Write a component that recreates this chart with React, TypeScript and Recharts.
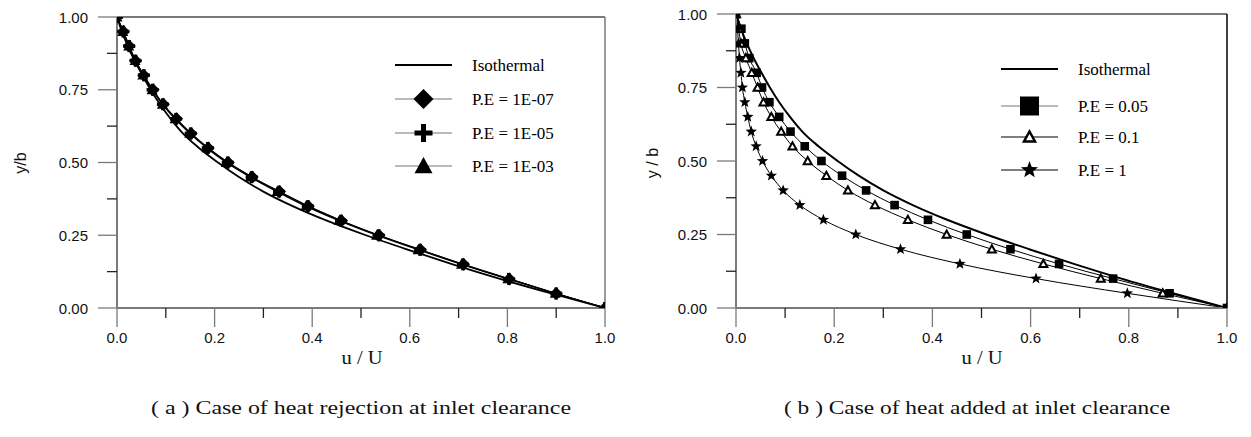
import React from 'react'
import { LineChart, Line, XAxis, YAxis, ReferenceLine } from 'recharts'

// y/b levels at which every profile was sampled (top to bottom)
const yLevels = [1.0, 0.95, 0.9, 0.85, 0.8, 0.75, 0.7, 0.65, 0.6, 0.55, 0.5, 0.45, 0.4, 0.35, 0.3, 0.25, 0.2, 0.15, 0.1, 0.05, 0.0]

// u/U for each y/b level
const uIsothermal = [0, 0.01, 0.022, 0.036, 0.052, 0.069, 0.088, 0.11, 0.135, 0.168, 0.207, 0.25, 0.3, 0.36, 0.43, 0.51, 0.597, 0.688, 0.785, 0.89, 1.0]
const uPe1e7 = [0, 0.013, 0.025, 0.038, 0.055, 0.074, 0.095, 0.122, 0.152, 0.187, 0.228, 0.277, 0.333, 0.392, 0.46, 0.537, 0.622, 0.71, 0.804, 0.9, 1.0]
const uPe1e5 = [0, 0.013, 0.025, 0.038, 0.055, 0.073, 0.094, 0.121, 0.151, 0.186, 0.227, 0.276, 0.332, 0.391, 0.459, 0.536, 0.621, 0.709, 0.803, 0.9, 1.0]
const uPe1e3 = [0, 0.012, 0.024, 0.037, 0.053, 0.072, 0.093, 0.119, 0.149, 0.184, 0.224, 0.273, 0.328, 0.387, 0.455, 0.532, 0.617, 0.706, 0.801, 0.898, 1.0]
const uPe005 = [0, 0.011, 0.018, 0.027, 0.042, 0.053, 0.068, 0.088, 0.111, 0.14, 0.174, 0.216, 0.265, 0.323, 0.391, 0.47, 0.559, 0.658, 0.768, 0.883, 1.0]
const uPe01 = [0, 0.005, 0.01, 0.02, 0.032, 0.044, 0.056, 0.072, 0.092, 0.115, 0.146, 0.184, 0.228, 0.283, 0.35, 0.429, 0.521, 0.626, 0.743, 0.869, 1.0]
const uPe1 = [0, 0.003, 0.005, 0.007, 0.01, 0.013, 0.018, 0.024, 0.031, 0.041, 0.054, 0.072, 0.096, 0.13, 0.178, 0.244, 0.335, 0.456, 0.611, 0.797, 1.0]

const xTicks = [0, 0.1, 0.2, 0.3, 0.4, 0.5, 0.6, 0.7, 0.8, 0.9, 1.0]
const yTicks = [0, 0.125, 0.25, 0.375, 0.5, 0.625, 0.75, 0.875, 1.0]

const legendA = ['Isothermal', 'P.E = 1E-07', 'P.E = 1E-05', 'P.E = 1E-03']
const legendB = ['Isothermal', 'P.E = 0.05', 'P.E = 0.1', 'P.E = 1']
const captionA = '( a ) Case of heat rejection at inlet clearance'
const captionB = '( b ) Case of heat added at inlet clearance'

const toPoints = (us: number[]) => us.map((u, i) => ({ u, y: yLevels[i] }))

const SANS = '"Liberation Sans", Arial, sans-serif'
const SERIF = '"Liberation Serif", "Times New Roman", serif'
const AXIS = '#7a7a7a'

// ---- markers ----
function Diamond({ cx, cy, s = 5.5 }: any) {
  return <polygon points={`${cx},${cy - s} ${cx + s},${cy} ${cx},${cy + s} ${cx - s},${cy}`} fill="#000" />
}
function Plus({ cx, cy, s = 5, t = 3.2 }: any) {
  return (
    <g fill="#000">
      <rect x={cx - s} y={cy - t / 2} width={2 * s} height={t} />
      <rect x={cx - t / 2} y={cy - s} width={t} height={2 * s} />
    </g>
  )
}
function Tri({ cx, cy, s = 5, hollow = false, sw = 2 }: any) {
  const pts = `${cx},${cy - s} ${cx + s},${cy + s * 0.8} ${cx - s},${cy + s * 0.8}`
  return hollow
    ? <polygon points={pts} fill="#fff" stroke="#000" strokeWidth={sw} strokeLinejoin="miter" />
    : <polygon points={pts} fill="#000" />
}
function Square({ cx, cy, s = 4 }: any) {
  return <rect x={cx - s} y={cy - s} width={2 * s} height={2 * s} fill="#000" />
}
function Star({ cx, cy, r = 5.5 }: any) {
  const pts: string[] = []
  for (let i = 0; i < 10; i++) {
    const rad = i % 2 === 0 ? r : r * 0.42
    const a = -Math.PI / 2 + (i * Math.PI) / 5
    pts.push(`${cx + rad * Math.cos(a)},${cy + rad * Math.sin(a)}`)
  }
  return <polygon points={pts.join(' ')} fill="#000" />
}

const dot = (Shape: any, extra: any = {}) => (p: any) => (
  <Shape key={`d-${p.index}`} cx={p.cx} cy={p.cy} {...extra} />
)

// ---- ticks ----
function XTick({ x, y, payload }: any) {
  const major = Math.round(payload.value * 10) % 2 === 0
  return (
    <g>
      <line x1={x} x2={x} y1={y} y2={y + (major ? 19 : 10)} stroke={major ? AXIS : '#222'} strokeWidth={1.3} />
      {major && (
        <text x={x} y={y + 29} textAnchor="middle" dominantBaseline="central" fontFamily={SANS} fontSize={15} fill="#111">
          {payload.value.toFixed(1)}
        </text>
      )}
    </g>
  )
}
function YTick({ x, y, payload }: any) {
  const major = Math.round(payload.value * 8) % 2 === 0
  return (
    <g>
      <line x1={x - (major ? 19 : 10)} x2={x} y1={y} y2={y} stroke={major ? AXIS : '#222'} strokeWidth={1.3} />
      {major && (
        <text x={x - 29} y={y} textAnchor="end" dominantBaseline="central" fontFamily={SANS} fontSize={15} fill="#111">
          {payload.value.toFixed(2)}
        </text>
      )}
    </g>
  )
}

// ---- legend (drawn as an overlay so it does not shrink the plot) ----
function LegendBox({ labels, symbols, rows, lineColors, left, top }: any) {
  return (
    <svg width={240} height={140} style={{ position: 'absolute', left, top }}>
      {labels.map((lab: string, i: number) => {
        const Sym = symbols[i]
        return (
          <g key={lab}>
            <line x1={5} x2={62} y1={rows[i]} y2={rows[i]} stroke={lineColors[i]} strokeWidth={i === 0 ? 2 : 1.2} />
            {Sym && <Sym.C cx={33.5} cy={rows[i]} {...Sym.p} />}
            <text x={82} y={rows[i]} dominantBaseline="central" fontFamily={SERIF} fontSize={17} fill="#000">
              {lab}
            </text>
          </g>
        )
      })}
    </svg>
  )
}

function Panel({ left, width, margin, series, rightBorder }: any) {
  return (
    <div style={{ position: 'absolute', left, top: 0 }}>
      <LineChart width={width} height={360} margin={margin}>
        <XAxis
          dataKey="u" type="number" domain={[0, 1]} ticks={xTicks} interval={0}
          tick={<XTick />} tickLine={false} tickSize={0} tickMargin={0} height={30}
          axisLine={{ stroke: AXIS, strokeWidth: 2 }} allowDataOverflow
        />
        <YAxis
          dataKey="y" type="number" domain={[0, 1]} ticks={yTicks} interval={0}
          tick={<YTick />} tickLine={false} tickSize={0} tickMargin={0} width={60}
          axisLine={{ stroke: AXIS, strokeWidth: 2 }} allowDataOverflow
        />
        <ReferenceLine y={1} stroke={AXIS} strokeWidth={2} />
        <ReferenceLine x={1} stroke={rightBorder} strokeWidth={1.5} />
        {series.map((s: any) => (
          <Line
            key={s.name} name={s.name} data={s.data} dataKey="y" type="monotone"
            stroke="#000" strokeWidth={s.width} dot={s.dot} activeDot={false}
            isAnimationActive={false}
          />
        ))}
      </LineChart>
    </div>
  )
}

export default function App() {
  const seriesA = [
    { name: legendA[0], data: toPoints(uIsothermal), width: 1.8, dot: false },
    { name: legendA[3], data: toPoints(uPe1e3), width: 1.2, dot: dot(Tri, { s: 5.5 }) },
    { name: legendA[2], data: toPoints(uPe1e5), width: 1.2, dot: dot(Plus, { s: 6, t: 3.6 }) },
    { name: legendA[1], data: toPoints(uPe1e7), width: 1.2, dot: dot(Diamond, { s: 6.5 }) },
  ]
  const seriesB = [
    { name: legendB[0], data: toPoints(uIsothermal), width: 2, dot: false },
    { name: legendB[1], data: toPoints(uPe005), width: 1, dot: dot(Square, { s: 4.3 }) },
    { name: legendB[2], data: toPoints(uPe01), width: 1, dot: dot(Tri, { s: 4, hollow: true, sw: 2 }) },
    { name: legendB[3], data: toPoints(uPe1), width: 1, dot: dot(Star, { r: 6 }) },
  ]
  return (
    <div style={{ position: 'absolute', left: 0, top: 0, width: 1251, height: 437, background: '#fff', overflow: 'hidden' }}>
      <Panel left={0} width={620} margin={{ top: 17, right: 15, bottom: 22, left: 57 }} series={seriesA} rightBorder={AXIS} />
      <Panel left={620} width={631} margin={{ top: 14, right: 24, bottom: 22, left: 56 }} series={seriesB} rightBorder="#000" />
      <LegendBox
        labels={legendA} left={390} top={48} rows={[17, 51, 85, 118]}
        lineColors={['#000', '#777', '#777', '#777']}
        symbols={[null, { C: Diamond, p: { s: 10 } }, { C: Plus, p: { s: 9, t: 5 } }, { C: Tri, p: { s: 9 } }]}
      />
      <LegendBox
        labels={legendB} left={996} top={52} rows={[17, 54, 85, 118]}
        lineColors={['#000', '#777', '#000', '#000']}
        symbols={[null, { C: Square, p: { s: 9.5 } }, { C: Tri, p: { s: 5.5, hollow: true, sw: 2.5 } }, { C: Star, p: { r: 9 } }]}
      />
      <svg width={1251} height={437} style={{ position: 'absolute', left: 0, top: 0, pointerEvents: 'none' }}>
        <text x={20} y={163} transform="rotate(-90 20 163)" textAnchor="middle" dominantBaseline="central" fontFamily={SANS} fontSize={16} fill="#111">y/b</text>
        <text x={652} y={163} transform="rotate(-90 652 163)" textAnchor="middle" dominantBaseline="central" fontFamily={SANS} fontSize={16} fill="#111">y / b</text>
        <text x={362} y={357} textAnchor="middle" dominantBaseline="central" fontFamily={SERIF} fontSize={19} textLength={41} lengthAdjust="spacingAndGlyphs" fill="#111">u / U</text>
        <text x={982} y={357} textAnchor="middle" dominantBaseline="central" fontFamily={SERIF} fontSize={19} textLength={41} lengthAdjust="spacingAndGlyphs" fill="#111">u / U</text>
        <text x={361} y={408} textAnchor="middle" dominantBaseline="central" fontFamily={SERIF} fontSize={18} textLength={420} lengthAdjust="spacingAndGlyphs" fill="#111">{captionA}</text>
        <text x={977} y={408} textAnchor="middle" dominantBaseline="central" fontFamily={SERIF} fontSize={18} textLength={386} lengthAdjust="spacingAndGlyphs" fill="#111">{captionB}</text>
      </svg>
    </div>
  )
}
